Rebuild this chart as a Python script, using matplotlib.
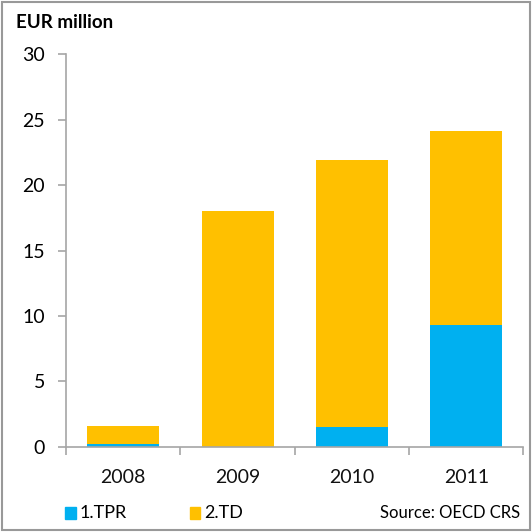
import numpy as np
import matplotlib.pyplot as plt
from matplotlib.patches import Rectangle

years = ['2008', '2009', '2010', '2011']
tpr = [0.25, 0.0, 1.55, 9.3]
td = [1.35, 18.0, 20.4, 14.8]
yticks = [0, 5, 10, 15, 20, 25, 30]

blue = '#00B0F0'
gold = '#FFC000'
grey = '#A6A6A6'

plt.rcParams['font.family'] = ['Lato', 'DejaVu Sans']

fig = plt.figure(figsize=(5.32, 5.32), dpi=100)
ax = fig.add_axes([0.124, 0.160, 0.860, 0.738])

x = np.arange(len(years))
ax.bar(x, tpr, width=0.63, color=blue, zorder=2)
ax.bar(x, td, width=0.63, bottom=tpr, color=gold, zorder=2)

ax.set_xlim(-0.5, len(years) - 0.5)
ax.set_ylim(0, 30)
ax.set_yticks(yticks)
ax.set_yticklabels([str(v) for v in yticks], fontsize=14)
ax.tick_params(axis='y', direction='out', length=6, color=grey, width=1.2, pad=9)

# category labels sit between boundary ticks
ax.set_xticks(np.arange(-0.5, len(years)), minor=False)
ax.set_xticklabels([''] * (len(years) + 1))
ax.tick_params(axis='x', direction='out', length=6, color=grey, width=1.2)
for i, yr in enumerate(years):
    ax.text(i, -2.35, yr, ha='center', va='center', fontsize=14, color='#111111')

for side in ['top', 'right']:
    ax.spines[side].set_visible(False)
for side in ['left', 'bottom']:
    ax.spines[side].set_color(grey)
    ax.spines[side].set_linewidth(1.2)

fig.text(0.030, 0.958, 'EUR million', fontsize=13.5, fontweight='bold', va='center')

# legend and source along the bottom
fig.patches.append(Rectangle((0.123, 0.025), 0.019, 0.022, transform=fig.transFigure,
                             color=blue))
fig.text(0.150, 0.036, '1.TPR', fontsize=13, va='center')
fig.patches.append(Rectangle((0.357, 0.025), 0.019, 0.022, transform=fig.transFigure,
                             color=gold))
fig.text(0.384, 0.036, '2.TD', fontsize=13, va='center')
fig.text(0.978, 0.036, 'Source: OECD CRS', fontsize=12, ha='right', va='center')

fig.patches.append(Rectangle((0.004, 0.004), 0.992, 0.992, transform=fig.transFigure,
                             fill=False, edgecolor='#999999', linewidth=1.5))

fig.savefig('out.png', dpi=100)
